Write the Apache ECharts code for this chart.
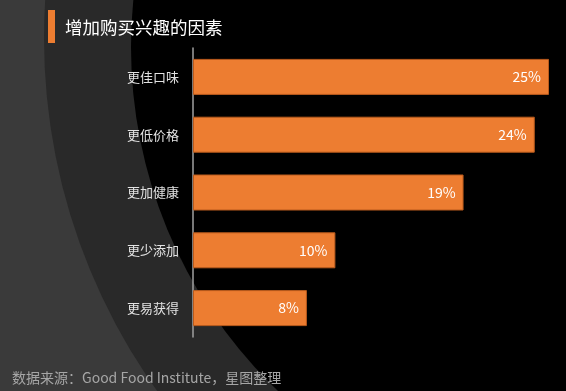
<!DOCTYPE html>
<html>
<head>
<meta charset="utf-8">
<script src="https://cdn.jsdelivr.net/npm/echarts@6/dist/echarts.min.js"></script>
<style>
html,body{margin:0;padding:0;background:#000;}
#c{width:566px;height:391px;}
</style>
</head>
<body>
<div id="c"></div>
<script>
const titleText = '增加购买兴趣的因素';
const sourceText = '数据来源：Good Food Institute，星图整理';
const categories = ['更佳口味', '更低价格', '更加健康', '更少添加', '更易获得'];
const values = [25, 24, 19, 10, 8];

const FONT = '"Noto Sans CJK SC", "Noto Sans", sans-serif';
const chart = echarts.init(document.getElementById('c'), null, {renderer: 'canvas'});
chart.setOption({
  backgroundColor: '#3a3a3a',
  animation: false,
  graphic: [
    {type: 'circle', z: -10, silent: true, shape: {cx: 651, cy: 38, r: 607}, style: {fill: '#292929'}},
    {type: 'circle', z: -9, silent: true, shape: {cx: 607, cy: 47, r: 476}, style: {fill: '#000000'}},
    {type: 'rect', shape: {x: 48, y: 10, width: 7, height: 33}, style: {fill: '#ED7D31'}},
    {type: 'text', x: 65, y: 27, style: {text: titleText, fill: '#ffffff', font: '17.5px ' + FONT, textVerticalAlign: 'middle'}},
    {type: 'text', x: 12, y: 378, style: {text: sourceText, fill: '#a6a6a6', font: '14px ' + FONT, textVerticalAlign: 'middle'}}
  ],
  grid: {left: 193, right: 17, top: 48, bottom: 54, containLabel: false},
  xAxis: {
    type: 'value', min: 0, max: 25, show: false
  },
  yAxis: {
    type: 'category', data: categories, inverse: true,
    axisLine: {show: true, lineStyle: {color: '#a0a0a0', width: 1.5}},
    axisTick: {show: false},
    axisLabel: {color: '#e2e2e2', fontSize: 13, fontFamily: FONT, margin: 14}
  },
  series: [{
    type: 'bar', data: values, barWidth: 36,
    itemStyle: {color: '#ED7D31', borderColor: '#b95a1c', borderWidth: 1},
    label: {show: true, position: 'insideRight', distance: 8, formatter: '{c}%', color: '#ffffff', fontSize: 14, fontFamily: FONT}
  }]
});
</script>
</body>
</html>
